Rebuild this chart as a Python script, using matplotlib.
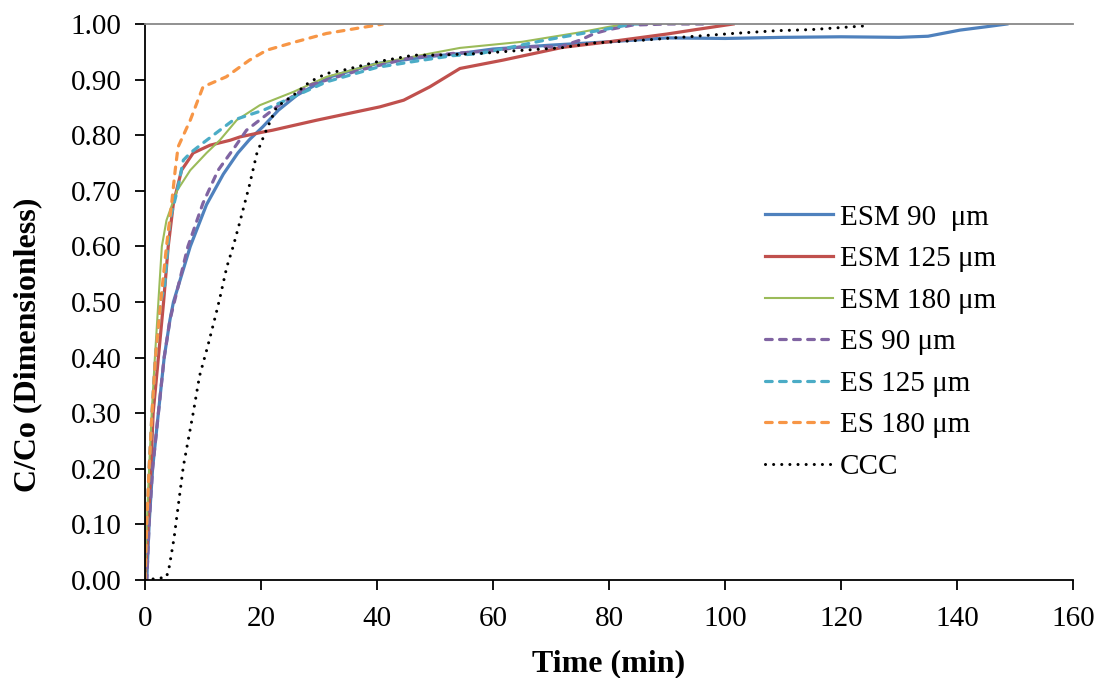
# breakthrough curves, C/Co vs time
import matplotlib.pyplot as plt

t_esm90 = [0, 0.3, 0.7, 1.3, 2.3, 3.3, 4.3, 4.9, 7.8, 10.6, 13.5, 16, 18, 20.3, 23, 26.2, 31.9, 40, 48.6, 54.3,
           60, 70, 80, 90, 100, 110, 120, 130, 135, 140.5, 145, 148.6]
c_esm90 = [0, 0, 0.1, 0.2, 0.3, 0.4, 0.468, 0.5, 0.6, 0.675, 0.73, 0.768, 0.792, 0.815, 0.845, 0.872, 0.905, 0.929, 0.941, 0.947,
           0.955, 0.962, 0.968, 0.975, 0.974, 0.976, 0.977, 0.976, 0.978, 0.989, 0.995, 1.0]

t_esm125 = [0, 0.3, 0.8, 1.4, 2.3, 3.2, 4.0, 4.9, 6.3, 8.3, 11.2, 14.7, 16.4, 20, 22, 29.6, 40.5, 44.6, 49.1, 54.3,
            61.7, 72, 80, 90, 95, 101.4]
c_esm125 = [0, 0.05, 0.15, 0.3, 0.4, 0.5, 0.6, 0.678, 0.737, 0.768, 0.782, 0.791, 0.797, 0.805, 0.809, 0.827, 0.851, 0.863, 0.887, 0.92,
            0.935, 0.958, 0.968, 0.982, 0.99, 1.0]

t_esm180 = [0, 0.3, 0.7, 1.15, 1.7, 2.3, 2.9, 3.7, 5.5, 7.8, 10.6, 12.9, 15.8, 19.8, 25.6, 31.3, 40, 54.3, 65, 75, 80, 83]
c_esm180 = [0, 0.1, 0.2, 0.3, 0.4, 0.5, 0.6, 0.647, 0.70, 0.737, 0.768, 0.791, 0.827, 0.854, 0.878, 0.905, 0.929, 0.957, 0.968, 0.985, 0.995, 1.0]

t_es90 = [0, 0.3, 0.7, 1.3, 2.3, 3.3, 4.3, 7.4, 10, 12.6, 15.5, 17.5, 22.7, 28.4, 37, 45.7, 53, 60, 65, 71.6, 75,
          77.5, 80, 84, 90, 97]
c_es90 = [0, 0, 0.1, 0.2, 0.3, 0.4, 0.468, 0.6, 0.678, 0.737, 0.779, 0.809, 0.851, 0.89, 0.917, 0.939, 0.947, 0.952, 0.959, 0.959, 0.971,
          0.983, 0.99, 0.998, 1.0, 1.0]

t_es125 = [0, 0.3, 0.7, 1.2, 1.8, 2.7, 3.4, 4.3, 5.7, 6.6, 7.8, 10, 12.9, 15.2, 20.4, 25.6, 31.3, 40, 46, 53,
           57.8, 69, 80.7, 84, 85]
c_es125 = [0, 0.1, 0.2, 0.3, 0.4, 0.5, 0.53, 0.647, 0.707, 0.755, 0.768, 0.786, 0.809, 0.827, 0.845, 0.869, 0.896, 0.922, 0.932, 0.943,
           0.947, 0.971, 0.993, 1.0, 1.0]

t_es180 = [0, 0.3, 0.7, 1.2, 1.8, 2.7, 3.7, 4.6, 5.2, 5.7, 7.8, 10, 14, 18, 21, 26, 31.3, 37, 40, 41]
c_es180 = [0, 0.1, 0.2, 0.3, 0.4, 0.5, 0.6, 0.678, 0.737, 0.779, 0.827, 0.887, 0.905, 0.935, 0.953, 0.968, 0.983, 0.993, 0.998, 1.0]

t_ccc = [0, 3.7, 4.2, 5, 6.6, 8.3, 9.4, 10.8, 12.2, 12.9, 14.1, 15.2, 16.3, 18, 19.3, 20.7, 22.7, 25.6, 28.4, 31.3, 34.2,
         40, 46.3, 50, 57.8, 64, 71.6, 77.5, 86, 93.6, 101.4, 109, 115, 124.7]
c_ccc = [0, 0.005, 0.025, 0.075, 0.204, 0.3, 0.367, 0.42, 0.477, 0.507, 0.563, 0.6, 0.642, 0.71, 0.768, 0.804, 0.851, 0.872, 0.896, 0.911, 0.917,
         0.932, 0.944, 0.944, 0.947, 0.952, 0.957, 0.966, 0.971, 0.977, 0.983, 0.988, 0.99, 0.997]

labels = ['ESM 90  \u03bcm', 'ESM 125 \u03bcm', 'ESM 180 \u03bcm', 'ES 90 \u03bcm', 'ES 125 \u03bcm', 'ES 180 \u03bcm', 'CCC']
xticks = [0, 20, 40, 60, 80, 100, 120, 140, 160]
yticks = [0, 0.1, 0.2, 0.3, 0.4, 0.5, 0.6, 0.7, 0.8, 0.9, 1.0]

plt.rcParams['font.family'] = ['Liberation Serif', 'DejaVu Serif']

fig = plt.figure(figsize=(11.02, 6.78), dpi=100)
ax = fig.add_axes([0.1316, 0.1445, 0.9737 - 0.1316, 0.9646 - 0.1445])

dash = (2.1, 2.3)
ax.plot(t_esm90, c_esm90, color='#4F81BD', lw=2.3, label=labels[0])
ax.plot(t_esm125, c_esm125, color='#C0504D', lw=2.3, label=labels[1])
ax.plot(t_esm180, c_esm180, color='#9BBB59', lw=1.5, label=labels[2])
ax.plot(t_es90, c_es90, color='#8064A2', lw=2.3, dashes=dash, dash_capstyle='round', label=labels[3])
ax.plot(t_es125, c_es125, color='#4BACC6', lw=2.3, dashes=dash, dash_capstyle='round', label=labels[4])
ax.plot(t_es180, c_es180, color='#F79646', lw=2.3, dashes=dash, dash_capstyle='round', label=labels[5])
ax.plot(t_ccc, c_ccc, color='black', lw=2.2, dashes=(0.01, 2.65), dash_capstyle='round', label=labels[6])

ax.set_xlim(0, 160)
ax.set_ylim(0, 1.0)
ax.set_xticks(xticks)
ax.set_yticks(yticks)
ax.set_xticklabels([str(x) for x in xticks])
ax.set_yticklabels(['%.2f' % y for y in yticks])
ax.tick_params(direction='out', length=7, width=1.3, labelsize=21)
ax.tick_params(axis='x', pad=12)
ax.tick_params(axis='y', pad=10)

ax.spines['right'].set_visible(False)
ax.spines['top'].set_color('#888888')
ax.spines['top'].set_linewidth(1.3)
ax.spines['left'].set_linewidth(1.3)
ax.spines['bottom'].set_linewidth(1.3)

ax.set_xlabel('Time (min)', fontsize=23, fontweight='bold', labelpad=12)
ax.set_ylabel('C/Co (Dimensionless)', fontsize=23, fontweight='bold')
ax.yaxis.set_label_coords(-0.111, 0.423)

ax.legend(loc='upper left', bbox_to_anchor=(0.668, 0.676), frameon=False, fontsize=21,
          handlelength=2.33, handletextpad=0.25, labelspacing=0.52, borderpad=0, borderaxespad=0)

plt.savefig('out.png', dpi=100)
